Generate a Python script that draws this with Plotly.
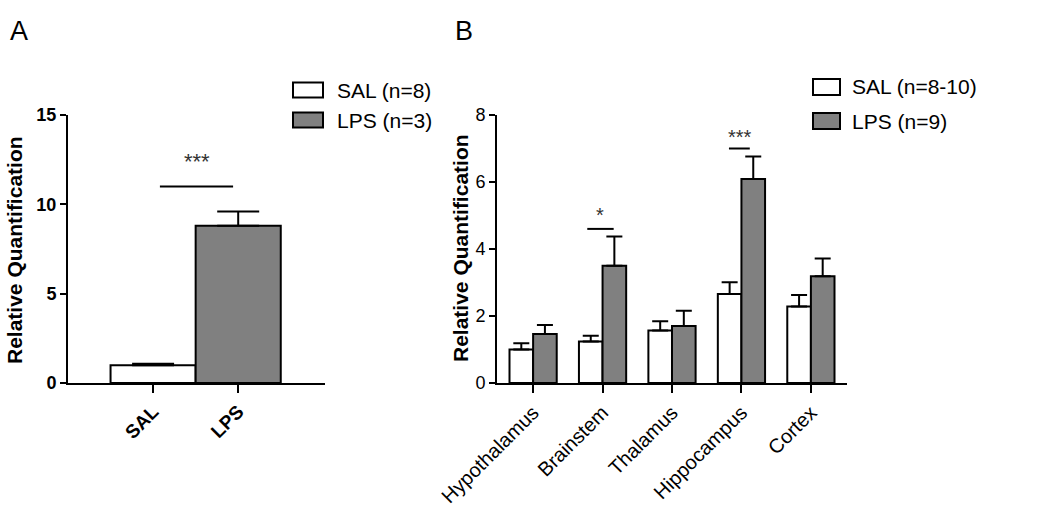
import plotly.graph_objects as go

# ---------------- data ----------------
a_groups = ["SAL", "LPS"]
a_means = [1.0, 8.8]
a_sem = [0.08, 0.8]

b_regions = ["Hypothalamus", "Brainstem", "Thalamus", "Hippocampus", "Cortex"]
b_sal_means = [1.0, 1.24, 1.57, 2.66, 2.28]
b_sal_sem = [0.19, 0.17, 0.27, 0.35, 0.35]
b_lps_means = [1.46, 3.5, 1.70, 6.09, 3.19]
b_lps_sem = [0.27, 0.87, 0.46, 0.67, 0.53]

a_legend = ["SAL (n=8)", "LPS (n=3)"]
b_legend = ["SAL (n=8-10)", "LPS (n=9)"]

a_yticks = [0, 5, 10, 15]
b_yticks = [0, 2, 4, 6, 8]

y_title = "Relative Quantification"

# ---------------- style ----------------
W, H = 1050, 513
FONT = "Liberation Sans, Arial, sans-serif"
GRAY = "#808080"
SAL_C = "#ffffff"


def px(x):
    return x / W


def py(y):
    return 1 - y / H


fig = go.Figure()

fig.add_trace(go.Bar(
    x=a_groups, y=a_means, width=1.0,
    marker=dict(color=[SAL_C, GRAY], line=dict(color="black", width=2)),
    error_y=dict(type="data", symmetric=False, array=a_sem, arrayminus=[0] * len(a_sem),
                 color="black", thickness=2, width=21),
    xaxis="x", yaxis="y", showlegend=False,
))

fig.add_trace(go.Bar(
    x=b_regions, y=b_sal_means, name="SAL",
    marker=dict(color=SAL_C, line=dict(color="black", width=2)),
    error_y=dict(type="data", symmetric=False, array=b_sal_sem, arrayminus=[0] * len(b_sal_sem),
                 color="black", thickness=2, width=8),
    xaxis="x2", yaxis="y2", showlegend=False,
))
fig.add_trace(go.Bar(
    x=b_regions, y=b_lps_means, name="LPS",
    marker=dict(color=GRAY, line=dict(color="black", width=2)),
    error_y=dict(type="data", symmetric=False, array=b_lps_sem, arrayminus=[0] * len(b_lps_sem),
                 color="black", thickness=2, width=8),
    xaxis="x2", yaxis="y2", showlegend=False,
))

ydom = [py(383), py(115)]

axis_common = dict(showline=True, linecolor="black", linewidth=2, showgrid=False,
                   zeroline=False, ticks="outside", tickcolor="black", tickwidth=2,
                   automargin=False)

fig.update_layout(
    width=W, height=H,
    margin=dict(l=0, r=0, t=0, b=0, pad=0, autoexpand=False),
    paper_bgcolor="white", plot_bgcolor="white",
    barmode="group", bargap=0.32, bargroupgap=0,
    font=dict(family=FONT, color="black"),
    xaxis=dict(domain=[px(68), px(325)], range=[-1.0, 2.02], type="category",
               ticklen=8, tickangle=-45,
               tickfont=dict(size=19, family=FONT, weight="bold"),
               anchor="y", **axis_common),
    yaxis=dict(domain=ydom, range=[0, 15], tickvals=a_yticks, ticklen=6,
               tickfont=dict(size=18, family=FONT, weight="bold"),
               anchor="x", **axis_common),
    xaxis2=dict(domain=[px(497), px(847)], range=[-0.52, 4.52], type="category",
                ticklen=8, tickangle=-45,
                tickfont=dict(size=20, family=FONT),
                anchor="y2", **axis_common),
    yaxis2=dict(domain=ydom, range=[0, 8], tickvals=b_yticks, ticklen=6,
                tickfont=dict(size=18, family=FONT),
                anchor="x2", **axis_common),
)

shapes = []
annotations = []

# y-axis titles
annotations.append(dict(xref="paper", yref="paper", x=px(14), y=py(250), text=y_title,
                        textangle=-90, showarrow=False, xanchor="center", yanchor="middle",
                        font=dict(size=21, family=FONT, weight="bold")))
annotations.append(dict(xref="paper", yref="paper", x=px(460), y=py(248), text=y_title,
                        textangle=-90, showarrow=False, xanchor="center", yanchor="middle",
                        font=dict(size=21, family=FONT, weight="bold")))

# significance markers
shapes.append(dict(type="line", xref="x", yref="y", x0=0.08, x1=0.94, y0=11, y1=11,
                   line=dict(color="black", width=2)))
annotations.append(dict(xref="x", yref="y", x=0.52, y=12.4, text="***", showarrow=False,
                        font=dict(size=22, family=FONT, color="#333333")))
shapes.append(dict(type="line", xref="x2", yref="y2", x0=0.78, x1=1.16, y0=4.6, y1=4.6,
                   line=dict(color="black", width=2)))
annotations.append(dict(xref="x2", yref="y2", x=0.97, y=5.0, text="*", showarrow=False,
                        font=dict(size=20, family=FONT, color="#333333")))
shapes.append(dict(type="line", xref="x2", yref="y2", x0=2.82, x1=3.12, y0=7.0, y1=7.0,
                   line=dict(color="black", width=2)))
annotations.append(dict(xref="x2", yref="y2", x=2.98, y=7.35, text="***", showarrow=False,
                        font=dict(size=20, family=FONT, color="#333333")))

# legends drawn as boxes + labels
def add_legend(x_box, y_centers, labels, box_w, box_h, x_text):
    for yc, lab, col in zip(y_centers, labels, [SAL_C, GRAY]):
        shapes.append(dict(type="rect", xref="paper", yref="paper",
                           x0=px(x_box), x1=px(x_box + box_w),
                           y0=py(yc + box_h / 2), y1=py(yc - box_h / 2),
                           fillcolor=col, line=dict(color="black", width=2)))
        annotations.append(dict(xref="paper", yref="paper", x=px(x_text), y=py(yc),
                                xanchor="left", yanchor="middle", text=lab, showarrow=False,
                                font=dict(size=21, family=FONT)))


add_legend(293, [90, 120], a_legend, 30, 15, 335)
add_legend(813, [87, 121], b_legend, 27, 16, 850)

# panel letters
annotations.append(dict(xref="paper", yref="paper", x=px(8), y=py(31), xanchor="left",
                        yanchor="middle", text="A", showarrow=False,
                        font=dict(size=27, family=FONT)))
annotations.append(dict(xref="paper", yref="paper", x=px(453), y=py(31), xanchor="left",
                        yanchor="middle", text="B", showarrow=False,
                        font=dict(size=27, family=FONT)))

fig.update_layout(shapes=shapes, annotations=annotations)

fig.write_html("out.html", config={"displayModeBar": False},
               post_script="document.body.style.margin='0px';document.body.style.overflow='hidden';")
